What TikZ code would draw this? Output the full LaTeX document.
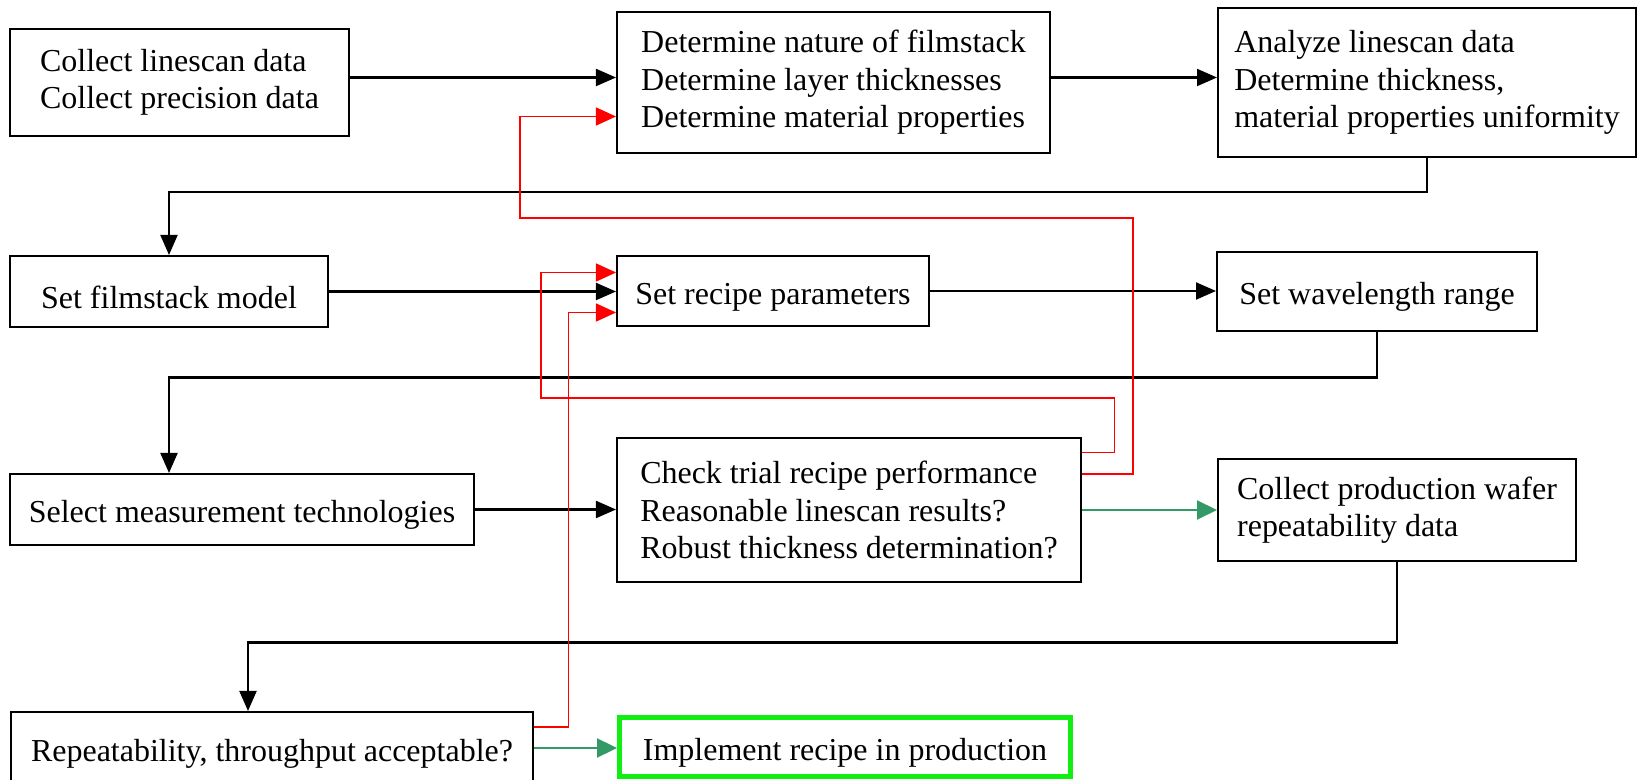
\documentclass[tikz,border=0pt]{standalone}
\usepackage{fontspec}
\setmainfont{Liberation Serif}
\usetikzlibrary{arrows.meta}
\definecolor{flow-red}{HTML}{FF0000}
\definecolor{flow-green}{HTML}{339966}
\definecolor{done-green}{HTML}{11EE11}

\begin{document}
\begin{tikzpicture}[
      every node/.style={font=\fontsize{18.2}{21.3}\selectfont},
      box/.style={draw, line width=1.15pt, align=left, inner sep=0pt,
                  execute at begin node={\rule{0pt}{19.2pt}}},
      fwd/.style={line width=1.15pt, -{Triangle[length=0.4cm, width=0.34cm]}},
      back/.style={flow-red, line width=0.85pt, -{Triangle[length=0.4cm, width=0.36cm]}},
      pass/.style={flow-green, line width=1.15pt, -{Triangle[length=0.4cm, width=0.38cm]}}]
    \useasboundingbox (0,0) rectangle (32.76,-15.6);
    % first row
    \node[box, minimum width=6.78cm, minimum height=2.14cm] (COLLECT) at (3.59,-1.65)
          {Collect linescan data\\Collect precision data};
    \node[box, minimum width=8.66cm, minimum height=2.82cm] (FILM) at (16.67,-1.65)
          {Determine nature of filmstack\\Determine layer thicknesses\\Determine material properties};
    \node[box, minimum width=8.36cm, minimum height=2.98cm] (ANALYZE) at (28.54,-1.65)
          {Analyze linescan data\\Determine thickness,\\material properties uniformity};
    % second row
    \node[box, minimum width=6.36cm, minimum height=1.42cm] (MODEL) at (3.38,-5.83)
          {Set filmstack model};
    \node[box, minimum width=6.24cm, minimum height=1.40cm] (RECIPE) at (15.46,-5.82)
          {Set recipe parameters};
    \node[box, minimum width=6.40cm, minimum height=1.58cm] (WAVE) at (27.54,-5.83)
          {Set wavelength range};
    % third row
    \node[box, minimum width=9.28cm, minimum height=1.42cm] (TECH) at (4.84,-10.19)
          {Select measurement technologies};
    \node[box, minimum width=9.28cm, minimum height=2.88cm] (TRIAL) at (16.98,-10.20)
          {Check trial recipe performance\\Reasonable linescan results?\\Robust thickness determination?};
    \node[box, minimum width=7.16cm, minimum height=2.04cm] (WAFER) at (27.94,-10.20)
          {Collect production wafer\\repeatability data};
    % last row
    \node[box, minimum width=10.44cm, minimum height=1.44cm] (REPEAT) at (5.44,-14.96)
          {Repeatability, throughput acceptable?};
    \node[box, draw=done-green, line width=2.8pt, minimum width=9.02cm,
          minimum height=1.17cm] (IMPL) at (16.90,-14.94)
          {Implement recipe in production};
    % main flow
    \draw[fwd] ([yshift=1mm]COLLECT.east) -- ([yshift=1mm]FILM.west);
    \draw[fwd] ([yshift=1mm]FILM.east) -- ([yshift=1mm]ANALYZE.west);
    \draw[fwd] (ANALYZE.south) -- ++(0,-0.68) -| (MODEL.north);
    \draw[fwd] (MODEL.east) -- (MODEL.east -| RECIPE.west);
    \draw[fwd] (RECIPE.east) -- (RECIPE.east -| WAVE.west);
    \draw[fwd] (WAVE.south) -- ++(0,-0.91) -| (TECH.north -| MODEL.south);
    \draw[fwd] (TECH.east) -- (TECH.east -| TRIAL.west);
    \draw[pass] (TRIAL.east) -- (WAFER.west);
    \draw[fwd] (WAFER.south) -- ++(0,-1.61) -| ([xshift=-4.8mm]REPEAT.north);
    \draw[pass] (REPEAT.east) -- (REPEAT.east -| IMPL.west);
    % loops back on failure
    \draw[back] ([yshift=7.2mm]TRIAL.east) -- ++(1.02,0) -- ++(0,5.12) -- ++(-12.26,0)
          |- ([yshift=-6.8mm]FILM.west);
    \draw[back] ([yshift=11.5mm]TRIAL.east) -- ++(0.65,0) -- ++(0,1.09) -- ++(-11.47,0)
          |- ([yshift=3.7mm]RECIPE.west);
    \draw[back] ([yshift=4.2mm]REPEAT.east) -- ++(0.69,0) |- ([yshift=-4.3mm]RECIPE.west);
\end{tikzpicture}
\end{document}
